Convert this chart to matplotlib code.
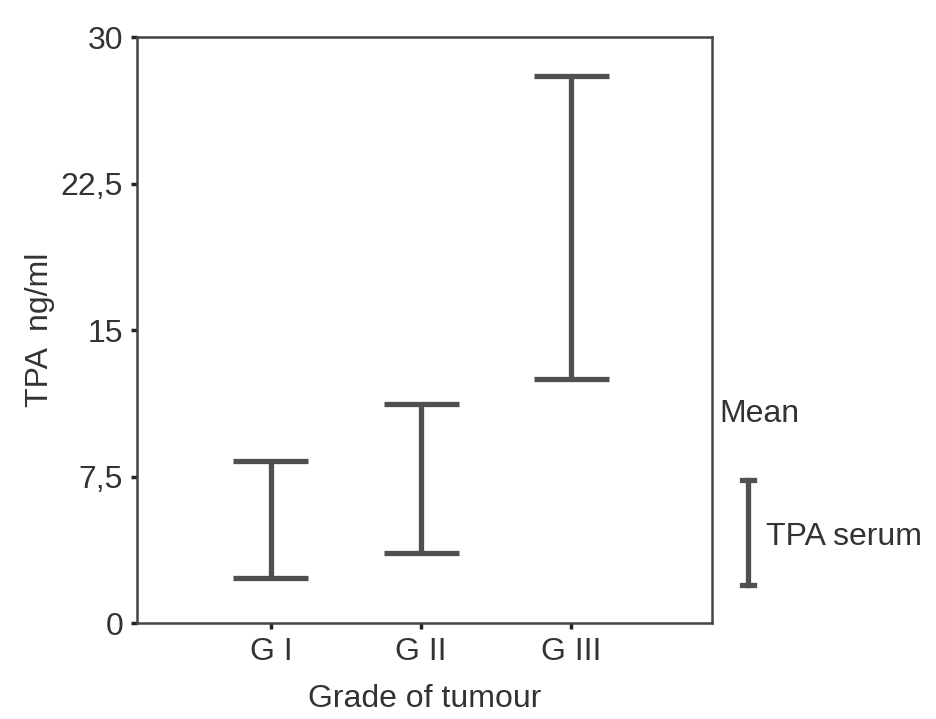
import numpy as np
import matplotlib
matplotlib.use('Agg')
import matplotlib.pyplot as plt
from matplotlib.lines import Line2D

# confidence interval bounds of TPA serum per tumour grade
grades = ['G I', 'G II', 'G III']
lower = [2.3, 3.6, 12.5]
upper = [8.3, 11.2, 28.0]
yticks = [0, 7.5, 15, 22.5, 30]
ytick_labels = ['0', '7,5', '15', '22,5', '30']

plt.rcParams['font.family'] = ['Liberation Sans', 'DejaVu Sans']
plt.rcParams['font.size'] = 23
col = '#505050'
txt = '#333333'

fig = plt.figure(figsize=(9.37, 7.19), dpi=100)
ax = fig.add_axes([0.1462, 0.1335, 0.6138, 0.815])

x = np.arange(1, len(grades) + 1)
cap = 0.25
ax.vlines(x, lower, upper, color=col, linewidth=3.8)
ax.hlines(lower, x - cap, x + cap, color=col, linewidth=3.8)
ax.hlines(upper, x - cap, x + cap, color=col, linewidth=3.8)

ax.set_xlim(0.107, 3.94)
ax.set_ylim(0, 30)
ax.set_xticks(x)
ax.set_xticklabels(grades, color=txt)
ax.set_yticks(yticks)
ax.set_yticklabels(ytick_labels, color=txt)
ax.tick_params(direction='out', length=4, width=2.5, color='#222222', pad=6)

for s in ax.spines.values():
    s.set_linewidth(1.8)
    s.set_color('#444444')

ax.set_ylabel('TPA  ng/ml', color=txt, labelpad=4)
ax.set_xlabel('Grade of tumour', color=txt, labelpad=12)

# legend outside the plot
fig.text(719 / 937, 1 - 414 / 719, 'Mean', va='center', ha='left', color=txt)
fig.add_artist(Line2D([748 / 937, 748 / 937], [1 - 480 / 719, 1 - 585 / 719],
                      color=col, linewidth=3.8))
for yy in (480, 585):
    fig.add_artist(Line2D([742 / 937, 754 / 937], [1 - yy / 719, 1 - yy / 719],
                          color=col, linewidth=3.8))
fig.text(766 / 937, 1 - 537 / 719, 'TPA serum', va='center', ha='left', color=txt)

fig.savefig('out.png', dpi=100)
